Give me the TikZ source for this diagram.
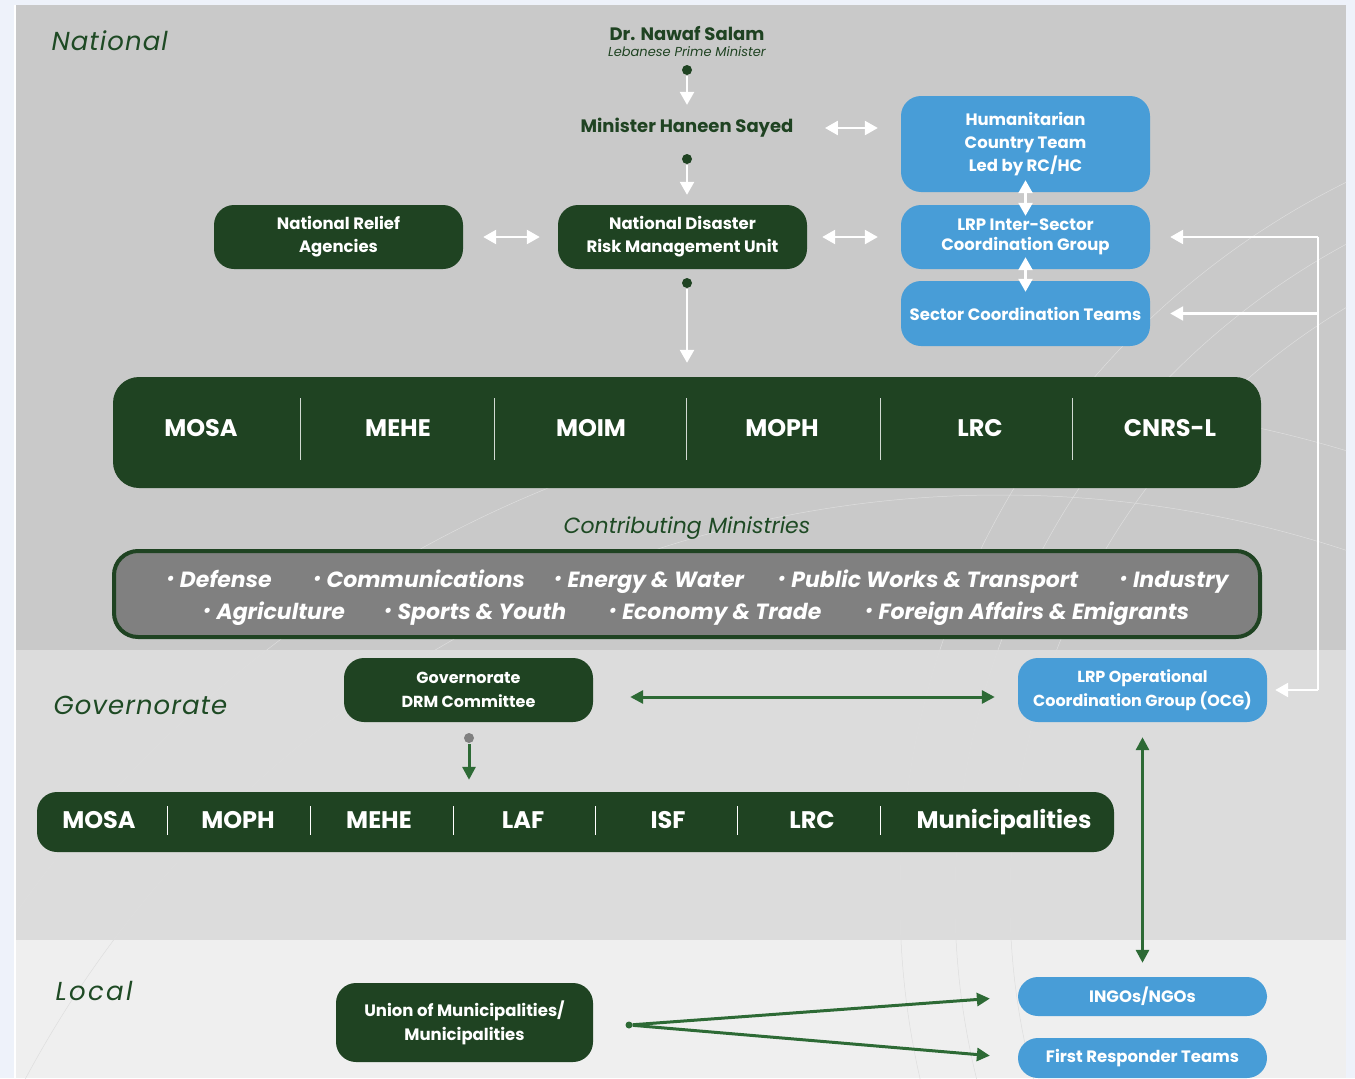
\documentclass[tikz,border=0pt]{standalone}
\usepackage{fontspec}
\setmainfont{Poppins}
\usetikzlibrary{positioning}
\usetikzlibrary{calc}
\usetikzlibrary{arrows.meta}

\definecolor{dgreen}{HTML}{1F4322}
\definecolor{lblue}{HTML}{489DD7}
\definecolor{agreen}{HTML}{2D6A35}
\definecolor{tgreen}{HTML}{1E4A24}
\definecolor{natgray}{HTML}{C9C9C9}
\definecolor{govgray}{HTML}{DCDCDC}
\definecolor{locgray}{HTML}{EFEFEF}
\definecolor{outerbg}{HTML}{EEF2FA}
\definecolor{midgray}{HTML}{808080}

\newcommand{\bul}{\raisebox{3pt}{\fontsize{17}{17}\selectfont•}}

\tikzset{
  gbox/.style={fill=dgreen, text=white, rounded corners=20pt, align=center, inner sep=0pt,
    minimum width=249pt, minimum height=64pt, font=\bfseries\fontsize{16.5}{23}\selectfont},
  bbox/.style={gbox, fill=lblue},
  bar/.style={fill=dgreen, rounded corners=26pt, inner sep=0pt},
  barlabel/.style={text=white, anchor=base, font=\bfseries\fontsize{24}{24}\selectfont},
  level/.style={text=tgreen, anchor=west, font=\itshape\fontsize{26}{26}\selectfont\addfontfeatures{LetterSpace=4}},
  item/.style={text=white, anchor=base, font=\bfseries\itshape\fontsize{22}{22}\selectfont},
  person/.style={text=dgreen, align=center, font=\bfseries\fontsize{18}{20}\selectfont},
  dot/.style={circle, fill=dgreen, inner sep=0pt, minimum size=10pt},
  wline/.style={white, line width=2.5pt},
  warrow/.style={wline, -{Triangle[length=13pt,width=14pt]}},
  wboth/.style={wline, {Triangle[length=13pt,width=14pt]}-{Triangle[length=13pt,width=14pt]}},
  garrow/.style={agreen, line width=3pt, -{Triangle[length=13pt,width=13pt]}},
  gboth/.style={agreen, line width=3pt, {Triangle[length=13pt,width=13pt]}-{Triangle[length=13pt,width=13pt]}},
  arcline/.style={black!13, line width=0.5pt},
  sepline/.style={white!80!dgreen, line width=1pt}
}

\begin{document}
\begin{tikzpicture}[x=1pt,y=-1pt]
\fill[outerbg](0,0) rectangle (1355,1078);
\fill[natgray](16,5) rectangle (1346,650);
\fill[govgray](16,650) rectangle (1346,940);
\fill[locgray](16,940) rectangle (1346,1078);
\draw[white, line width=1.5pt](15,5)--(15,1078);

\begin{scope}
\clip (16,5) rectangle (1346,1078);
\draw[arcline](1700,900) circle[radius=690pt];
\draw[arcline](1700,900) circle[radius=745pt];
\draw[arcline](1700,900) circle[radius=800pt];
\draw[arcline](1000,1600) circle[radius=1105pt];
\draw[arcline](1000,1600) circle[radius=1200pt];
\end{scope}

\node[level](national) at (48,41){National};
\node[level](governorate) at (50,705){Governorate};
\node[level, font=\itshape\fontsize{26}{26}\selectfont\addfontfeatures{LetterSpace=9}](local) at (52,991){Local};

\node[person](pm) at (687,42){Dr. Nawaf Salam\\[-4pt]{\mdseries\itshape\fontsize{13}{15}\selectfont Lebanese Prime Minister}};
\node[dot](dotA) at (687,70){};
\node[person](minister) at (687,128){Minister Haneen Sayed};
\node[dot](dotB) at (687,159){};

\node[gbox](ndrmu) at (682.5,237){National Disaster\\Risk Management Unit};
\node[gbox](nra) at (338.5,237){National Relief\\Agencies};
\node[dot](dotC) at (687,283){};

\node[bbox, minimum height=96pt](hct) at (1025.5,144){Humanitarian\\Country Team\\Led by RC/HC};
\node[bbox, font=\bfseries\fontsize{16.5}{20}\selectfont](iscg) at (1025.5,237){LRP Inter-Sector\\Coordination Group};
\node[bbox, minimum height=65pt](sct) at (1025.5,313.5){Sector Coordination Teams};

\node[bar, minimum width=1148pt, minimum height=111pt](mins) at (687,432.5){};
\node[barlabel](mosa) at (201,436.5){MOSA};
\node[barlabel](mehe) at (398,436.5){MEHE};
\node[barlabel](moim) at (591,436.5){MOIM};
\node[barlabel](moph) at (782,436.5){MOPH};
\node[barlabel](lrc) at (980,436.5){LRC};
\node[barlabel](cnrs) at (1170,436.5){CNRS-L};
\draw[sepline](300,398)--(300,460);
\draw[sepline](494,398)--(494,460);
\draw[sepline](686,398)--(686,460);
\draw[sepline](880,398)--(880,460);
\draw[sepline](1072,398)--(1072,460);

\node[text=tgreen, font=\itshape\fontsize{22}{22}\selectfont](contriblabel) at (687,528){Contributing Ministries};
\node[fill=midgray, draw=dgreen, line width=4pt, rounded corners=24pt, minimum width=1146pt, minimum height=86pt](contrib) at (687,594){};
\node[item](defense) at (219,587){\bul\ Defense};
\node[item](comm) at (419,587){\bul\ Communications};
\node[item](energy) at (649,587){\bul\ Energy \& Water};
\node[item](works) at (928,587){\bul\ Public Works \& Transport};
\node[item](industry) at (1174,587){\bul\ Industry};
\node[item](agri) at (274,619){\bul\ Agriculture};
\node[item](sports) at (475,619){\bul\ Sports \& Youth};
\node[item](economy) at (715,619){\bul\ Economy \& Trade};
\node[item](foreign) at (1027,619){\bul\ Foreign Affairs \& Emigrants};

\node[gbox, font=\bfseries\fontsize{16}{24}\selectfont](gdrm) at (468.5,690){Governorate\\DRM Committee};
\node[bbox, font=\bfseries\fontsize{16}{24}\selectfont](ocg) at (1142.5,690){LRP Operational\\Coordination Group (OCG)};
\node[dot, fill=gray](dotG) at (469,738){};

\node[bar, rounded corners=20pt, minimum width=1077pt, minimum height=60pt](govbar) at (575.5,822){};
\node[barlabel](gmosa) at (99,828.5){MOSA};
\node[barlabel](gmoph) at (238,828.5){MOPH};
\node[barlabel](gmehe) at (379,828.5){MEHE};
\node[barlabel](glaf) at (523,828.5){LAF};
\node[barlabel](gisf) at (668,828.5){ISF};
\node[barlabel](glrc) at (812,828.5){LRC};
\node[barlabel](gmun) at (1004,828.5){Municipalities};
\draw[white, line width=1pt](167,806)--(167,835);
\draw[white, line width=1pt](310,806)--(310,835);
\draw[white, line width=1pt](453,806)--(453,835);
\draw[white, line width=1pt](595,806)--(595,835);
\draw[white, line width=1pt](737,806)--(737,835);
\draw[white, line width=1pt](880,806)--(880,835);

\node[gbox, font=\bfseries\fontsize{16.5}{24}\selectfont, minimum width=257pt, minimum height=79pt](union) at (464.5,1022.5){Union of Municipalities/\\Municipalities};
\node[dot, fill=agreen, minimum size=7pt](dotL) at (629,1025){};
\node[bbox, minimum height=39pt, font=\bfseries\fontsize{16.5}{20}\selectfont](ingo) at (1142.5,996.5){INGOs/NGOs};
\node[bbox, minimum height=40pt, font=\bfseries\fontsize{16.5}{20}\selectfont](frt) at (1142.5,1058){First Responder Teams};

\coordinate (busT) at (1318,237);
\coordinate (busM) at (1318,313.5);
\coordinate (busB) at (1318,690);

\draw[warrow, shorten <=1pt, shorten >=10pt](dotA)--(dotA |- minister.north);
\draw[warrow, shorten <=1pt, shorten >=10pt](dotB)--(dotB |- ndrmu.north);
\draw[warrow, shorten <=1pt, shorten >=14pt](dotC)--(dotC |- mins.north);
\draw[wboth, shorten <=28pt, shorten >=23pt](minister.east)--(minister.east -| hct.west);
\draw[wboth](nra.east)+(20,0)--($(ndrmu.west)+(-18,0)$);
\draw[wboth](ndrmu.east)+(15,0)--($(iscg.west)+(-23,0)$);
\draw[wboth, shorten <=-12pt, shorten >=-11pt](hct)--(iscg);
\draw[wboth, shorten <=-12pt, shorten >=-11pt](iscg)--(sct);

\draw[wline](busT)--(busB);
\path
(busT) edge[warrow, shorten >=20pt] (iscg.east)
(busM) edge[warrow, shorten >=20pt] (sct.east)
(busB) edge[warrow, shorten >=8pt] (ocg.east);

\draw[gboth, shorten <=37pt, shorten >=23pt]([yshift=-7pt]gdrm.east)--([yshift=-7pt]gdrm.east -| ocg.west);
\draw[garrow, shorten <=1pt, shorten >=12pt](dotG)--(dotG |- govbar.north);
\draw[gboth, shorten <=15pt, shorten >=14pt](ocg)--(ocg |- ingo.north);
\path
(dotL) edge[garrow, shorten >=28pt] (ingo.west)
(dotL) edge[garrow, shorten >=28pt] (frt.west);
\end{tikzpicture}
\end{document}
